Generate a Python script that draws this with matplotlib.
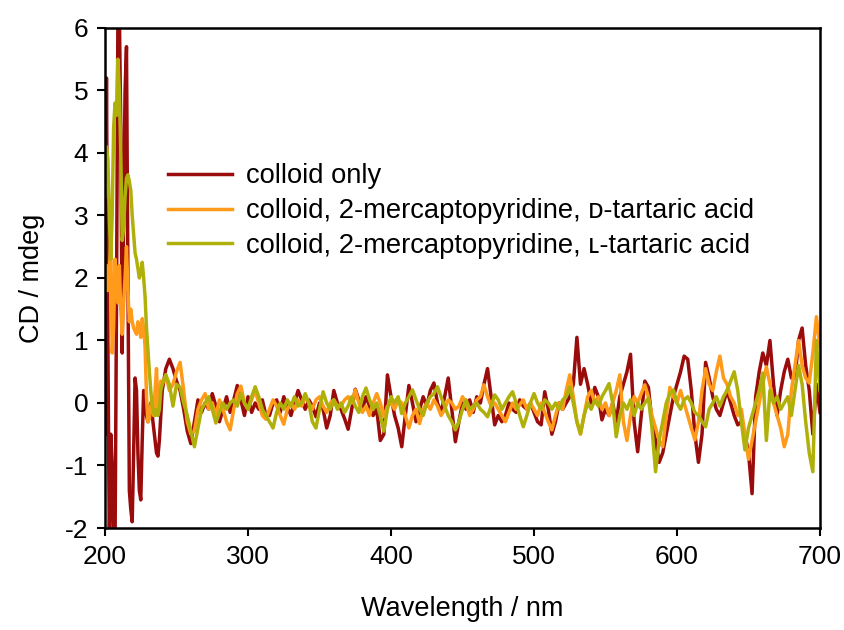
import numpy as np
import matplotlib
matplotlib.use("Agg")
import matplotlib.pyplot as plt

# ---- data ----
wl_uv = list(range(200, 240))                      # 1 nm steps, 200-239 nm
wl_vis = [240 + 2.5 * i for i in range(185)]        # 2.5 nm steps, 240-700 nm

red_uv = [-0.5, 5.2, 1.0, -2.3, -0.5, -1.0, -2.3, -2.3, 1.5, 6.2,
          6.3, 4.4, 0.8, 3.0, 5.0, 5.7, 2.0, -1.4, -1.7, -1.9,
          -0.8, 0.4, 0.2, -0.8, -1.4, -1.55, -0.6, 0.2, 0.1, -0.2,
          -0.3, -0.1, 0.0, -0.2, -0.4, -0.6, -0.8, -0.85, -0.6, -0.2]
orange_uv = [1.8, 2.2, 1.8, 2.1, 2.6, 0.8, 1.2, 2.3, 2.0, 1.6,
             2.2, 1.5, 1.1, 1.6, 2.0, 2.5, 1.8, 1.3, 1.5, 1.3,
             1.2, 1.15, 1.1, 1.3, 1.2, 1.05, 1.35, 1.2, 0.9, 0.1,
             -0.3, -0.25, -0.05, 0.1, -0.2, 0.2, 0.55, -0.1, 0.1, 0.35]
green_uv = [3.3, 4.1, 3.9, 3.0, 2.3, 3.0, 4.4, 4.8, 4.6, 5.5,
            5.0, 4.0, 2.6, 2.8, 3.3, 3.6, 3.65, 3.55, 3.4, 3.0,
            2.7, 2.4, 2.3, 2.15, 2.0, 2.1, 2.25, 2.0, 1.7, 1.2,
            0.85, 0.5, 0.2, -0.05, -0.15, -0.2, -0.1, -0.2, -0.1, 0.2]

red_vis = [0.2, 0.55, 0.7, 0.55, 0.35, 0.2, -0.1, -0.45, -0.65, -0.3,
           0.05, -0.15, 0.0, -0.1, 0.15, -0.05, -0.3, -0.1, 0.1, -0.15,
           0.05, 0.28, 0.05, -0.2, 0.1, -0.15, 0.0, -0.1, 0.05, -0.2,
           -0.2, 0.0, 0.05, -0.15, 0.1, -0.05, -0.2, 0.0, 0.2, 0.05,
           -0.1, 0.05, -0.05, -0.22, 0.0, -0.1, -0.4, -0.2, 0.2, 0.0,
           -0.1, -0.25, -0.42, -0.1, 0.22, 0.05, -0.1, 0.1, -0.05, -0.2,
           -0.1, -0.6, -0.5, 0.45, 0.1, -0.2, -0.4, -0.7, -0.2, 0.28,
           0.0, -0.3, -0.1, 0.1, -0.05, 0.2, 0.32, 0.0, -0.15, 0.1,
           0.4, -0.1, -0.62, -0.3, 0.0, -0.1, 0.05, -0.15, 0.1, 0.0,
           0.3, 0.55, 0.1, -0.35, -0.2, -0.3, -0.2, 0.0, -0.1, -0.15,
           0.05, -0.05, -0.1, 0.0, -0.15, -0.3, -0.35, 0.18, -0.1, -0.5,
           -0.3, 0.0, -0.1, 0.0, 0.1, 0.3, 1.05, 0.3, 0.55, 0.3,
           0.0, 0.25, 0.1, -0.27, -0.1, -0.2, 0.0, -0.3, 0.1, 0.3,
           0.5, 0.78, -0.3, -0.78, -0.2, 0.35, 0.25, -0.3, -0.6, -0.95,
           -0.8, -0.5, -0.2, 0.1, 0.3, 0.5, 0.75, 0.7, 0.2, -0.5,
           -0.95, -0.5, 0.65, 0.4, 0.1, -0.1, -0.2, 0.0, 0.2, 0.0,
           -0.2, -0.35, -0.3, -0.5, -0.8, -1.45, 0.1, 0.5, 0.8, 0.6,
           1.0, 0.3, -0.2, 0.2, 0.5, 0.7, 0.4, 0.4, 1.0, 1.2,
           0.6, 0.2, -0.5, 0.3, -0.15]
orange_vis = [0.3, 0.45, 0.2, 0.3, 0.5, 0.65, 0.2, -0.3, -0.5, -0.45,
              -0.1, 0.05, 0.15, -0.1, 0.0, -0.2, 0.05, -0.1, -0.3, -0.43,
              -0.1, 0.15, 0.27, 0.0, -0.1, 0.05, 0.2, 0.0, -0.2, -0.26,
              -0.1, 0.05, -0.05, -0.2, -0.34, -0.1, 0.0, -0.1, 0.05, -0.05,
              0.1, 0.0, -0.1, 0.05, 0.1, -0.05, -0.15, 0.0, 0.05, -0.05,
              -0.05, 0.05, 0.1, 0.0, 0.21, 0.0, -0.15, -0.05, -0.2, 0.0,
              0.15, 0.0, -0.22, -0.05, 0.0, -0.1, 0.05, 0.0, -0.2, -0.4,
              -0.2, -0.1, -0.33, -0.1, 0.0, -0.1, 0.05, -0.05, -0.2, -0.1,
              0.05, 0.0, -0.1, -0.05, 0.1, 0.0, -0.2, -0.1, 0.05, 0.1,
              0.29, 0.1, -0.05, 0.0, -0.1, -0.2, -0.3, -0.15, 0.0, -0.1,
              -0.03, 0.05, -0.1, 0.0, -0.1, -0.2, 0.0, -0.15, -0.3, -0.43,
              -0.2, 0.0, -0.1, 0.2, 0.45, 0.1, -0.3, -0.5, -0.2, 0.1,
              0.2, 0.0, 0.1, -0.1, 0.0, -0.2, 0.0, 0.2, 0.45, -0.3,
              -0.6, -0.2, 0.1, 0.0, 0.15, 0.29, 0.1, -0.2, -0.4, -0.6,
              -0.7, -0.2, 0.25, 0.1, 0.0, 0.2, 0.0, -0.2, -0.4, -0.59,
              -0.3, 0.2, 0.55, 0.3, 0.2, 0.5, 0.75, 0.4, 0.3, 0.1,
              0.0, -0.2, -0.1, -0.5, -0.9, -0.6, -0.3, 0.0, 0.3, 0.58,
              0.3, 0.0, -0.2, -0.4, -0.7, -0.5, 0.2, 0.6, 1.0, 0.6,
              0.4, 0.32, 0.8, 1.38, 0.9]
green_vis = [0.3, 0.45, 0.3, -0.05, 0.3, 0.25, 0.0, -0.2, -0.45, -0.7,
             -0.4, -0.1, 0.0, 0.1, -0.1, -0.32, -0.15, 0.0, -0.1, 0.0,
             0.05, -0.05, 0.15, 0.0, -0.1, 0.1, 0.26, 0.1, -0.1, -0.2,
             -0.3, -0.4, -0.15, 0.0, -0.1, 0.05, -0.05, 0.1, -0.05, 0.0,
             0.15, 0.0, -0.3, -0.4, -0.1, 0.18, 0.0, -0.1, 0.05, -0.1,
             0.0, -0.15, -0.05, 0.1, -0.05, -0.15, 0.1, 0.24, 0.05, -0.1,
             0.0, -0.2, -0.45, -0.1, 0.1, 0.0, 0.1, -0.17, 0.0, 0.1,
             0.21, 0.05, -0.1, -0.2, 0.0, 0.1, 0.15, 0.26, 0.1, -0.05,
             -0.2, -0.3, -0.43, -0.3, -0.1, 0.05, -0.1, -0.05, 0.0, -0.1,
             -0.15, -0.22, -0.05, 0.13, 0.05, -0.1, 0.0, 0.1, 0.18, 0.0,
             -0.2, -0.38, -0.2, 0.0, 0.15, 0.0, -0.1, 0.05, 0.0, -0.1,
             0.0, -0.1, 0.05, 0.1, 0.26, 0.0, -0.3, -0.49, -0.2, 0.0,
             -0.1, 0.05, -0.05, 0.1, 0.2, 0.31, 0.0, -0.54, -0.2, 0.0,
             -0.1, 0.05, -0.2, 0.0, -0.1, 0.0, 0.08, -0.4, -1.1, -0.6,
             -0.3, 0.0, 0.15, 0.21, 0.0, -0.1, 0.05, 0.1, 0.0, -0.15,
             -0.2, -0.3, -0.38, -0.1, 0.0, 0.1, -0.05, 0.1, 0.2, 0.35,
             0.5, 0.2, -0.3, -0.75, -0.4, -0.2, 0.0, 0.2, 0.48, -0.6,
             0.2, 0.0, 0.1, -0.1, 0.0, 0.1, -0.2, 0.2, 0.6, 0.3,
             -0.3, -0.8, -1.1, 1.0, 0.2]

labels = ["colloid only",
          "colloid, 2-mercaptopyridine, \u1d05-tartaric acid",
          "colloid, 2-mercaptopyridine, \u029f-tartaric acid"]
colors = ["#9A0B0B", "#FF9A1A", "#B0B00A"]

x_ticks = [200, 300, 400, 500, 600, 700]
y_ticks = [-2, -1, 0, 1, 2, 3, 4, 5, 6]

# ---- plot ----
plt.rcParams['font.family'] = ['Liberation Sans', 'DejaVu Sans']
plt.rcParams['axes.unicode_minus'] = False
fig = plt.figure(figsize=(8.45, 6.3), dpi=100)
ax = fig.add_axes([0.1243, 0.1619, 0.8461, 0.7937])

wl = wl_uv + wl_vis
series = [red_uv + red_vis, orange_uv + orange_vis, green_uv + green_vis]
for ys, c, lab in zip(series, colors, labels):
    ax.plot(wl, ys, color=c, lw=2.5, label=lab, solid_joinstyle='round')

FS = 19
ax.set_xlim(200, 700)
ax.set_ylim(-2, 6)
ax.set_xticks(x_ticks)
ax.set_yticks(y_ticks)
ax.tick_params(direction='out', length=6, width=1.5, labelsize=FS, pad=6)
for s in ax.spines.values():
    s.set_linewidth(1.8)
ax.set_xlabel("Wavelength / nm", fontsize=FS + 0.5, labelpad=20)
ax.set_ylabel("CD / mdeg", fontsize=FS + 0.5, labelpad=14)

leg = ax.legend(loc='upper left', bbox_to_anchor=(0.088, 0.729), frameon=False,
                fontsize=19.7, handlelength=2.35, handletextpad=0.5,
                labelspacing=0.32, borderaxespad=0, borderpad=0)

fig.savefig("out.png", dpi=100)
